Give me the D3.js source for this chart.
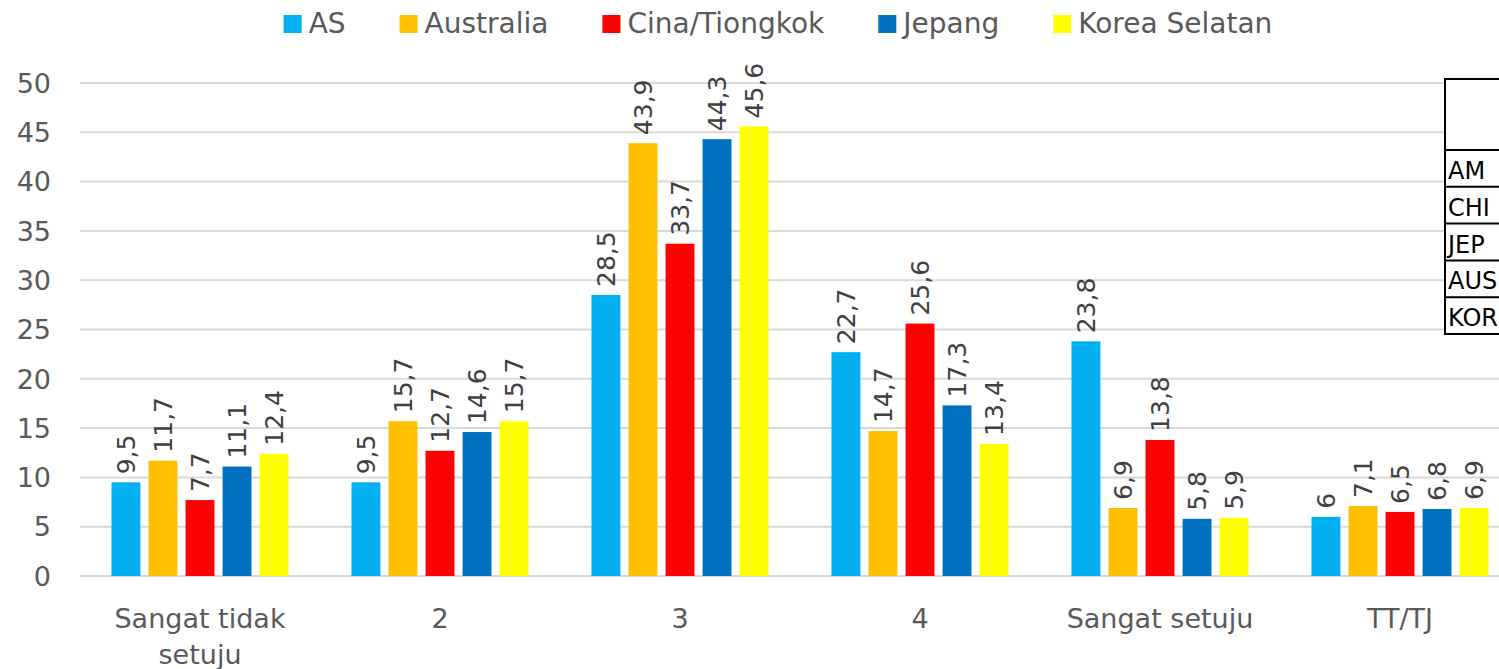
<!DOCTYPE html>
<html>
<head>
<meta charset="utf-8">
<script src="https://cdn.jsdelivr.net/npm/d3@7"></script>
<style>
  body { margin: 0; background: #fff; overflow: hidden; }
  text { font-family: "DejaVu Sans", sans-serif; }
</style>
</head>
<body>
<script>
var categories = ["Sangat tidak setuju", "2", "3", "4", "Sangat setuju", "TT/TJ"];
var seriesNames = ["AS", "Australia", "Cina/Tiongkok", "Jepang", "Korea Selatan"];
var seriesColors = ["#00b0f0", "#ffc000", "#ff0000", "#0070c0", "#ffff00"];
var valuesAS = [9.5, 9.5, 28.5, 22.7, 23.8, 6];
var valuesAustralia = [11.7, 15.7, 43.9, 14.7, 6.9, 7.1];
var valuesCina = [7.7, 12.7, 33.7, 25.6, 13.8, 6.5];
var valuesJepang = [11.1, 14.6, 44.3, 17.3, 5.8, 6.8];
var valuesKorea = [12.4, 15.7, 45.6, 13.4, 5.9, 6.9];
var yTicks = [0, 5, 10, 15, 20, 25, 30, 35, 40, 45, 50];
var tableRows = ["AM", "CHI", "JEP", "AUS", "KOR"];

var allValues = [valuesAS, valuesAustralia, valuesCina, valuesJepang, valuesKorea];

var W = 1499, H = 669;
var margin = { top: 83, left: 80, bottom: 93 };
var plotRight = 1520;

var svg = d3.select("body").append("svg")
  .attr("width", W)
  .attr("height", H);

var x = d3.scaleBand()
  .domain(categories)
  .range([margin.left, plotRight])
  .paddingInner(0)
  .paddingOuter(0);

var groupW = 177;
var inner = d3.scaleBand()
  .domain(seriesNames)
  .range([0, groupW])
  .paddingInner(0.22)
  .paddingOuter(0);

var y = d3.scaleLinear()
  .domain([0, 50])
  .range([H - margin.bottom, margin.top]);

// gridlines
svg.append("g").selectAll("line")
  .data(yTicks)
  .enter().append("line")
  .attr("x1", margin.left)
  .attr("x2", plotRight)
  .attr("y1", function (d) { return y(d); })
  .attr("y2", function (d) { return y(d); })
  .attr("stroke", "#d9d9d9")
  .attr("stroke-width", 2);

// y tick labels
svg.append("g").selectAll("text")
  .data(yTicks)
  .enter().append("text")
  .attr("x", 51)
  .attr("y", function (d) { return y(d); })
  .attr("dy", "0.36em")
  .attr("text-anchor", "end")
  .attr("font-size", 27)
  .attr("fill", "#595959")
  .text(function (d) { return d; });

// bars
var groupOffset = (x.bandwidth() - groupW) / 2;
seriesNames.forEach(function (s, si) {
  var g = svg.append("g");
  g.selectAll("rect")
    .data(allValues[si])
    .enter().append("rect")
    .attr("x", function (d, i) { return x(categories[i]) + groupOffset + inner(s); })
    .attr("y", function (d) { return y(d); })
    .attr("width", inner.bandwidth())
    .attr("height", function (d) { return y(0) - y(d); })
    .attr("fill", seriesColors[si]);

  g.selectAll("text")
    .data(allValues[si])
    .enter().append("text")
    .attr("transform", function (d, i) {
      var cx = x(categories[i]) + groupOffset + inner(s) + inner.bandwidth() / 2;
      return "translate(" + (cx + 9) + "," + (y(d) - 8) + ") rotate(-90)";
    })
    .attr("font-size", 25)
    .attr("fill", "#404040")
    .text(function (d) { return String(d).replace(".", ","); });
});

// x category labels
svg.append("g").selectAll("text")
  .data(categories)
  .enter().append("text")
  .attr("x", function (d) { return x(d) + x.bandwidth() / 2; })
  .attr("y", 628)
  .attr("text-anchor", "middle")
  .attr("font-size", 27)
  .attr("fill", "#595959")
  .each(function (d) {
    var t = d3.select(this);
    var lines = d === "Sangat tidak setuju" ? ["Sangat tidak", "setuju"] : [d];
    lines.forEach(function (ln, li) {
      t.append("tspan")
        .attr("x", x(d) + x.bandwidth() / 2)
        .attr("dy", li === 0 ? 0 : 36)
        .text(ln);
    });
  });

// legend
var legend = svg.append("g");
var lx = 0, gap = 54;
seriesNames.forEach(function (s, si) {
  var item = legend.append("g").attr("transform", "translate(" + lx + ",0)");
  item.append("rect")
    .attr("x", 0).attr("y", 15)
    .attr("width", 18).attr("height", 18)
    .attr("fill", seriesColors[si]);
  var t = item.append("text")
    .attr("x", 25).attr("y", 33)
    .attr("font-size", 28)
    .attr("fill", "#595959")
    .text(s);
  lx += 25 + t.node().getComputedTextLength() + gap;
});
lx -= gap;
legend.attr("transform", "translate(" + (778 - lx / 2) + ",0)");

// cut-off table on the right
var table = svg.append("g").attr("transform", "translate(1445,79)");
var rowH = 36.8;
table.append("rect")
  .attr("x", 0).attr("y", 0)
  .attr("width", 120).attr("height", 71 + rowH * tableRows.length)
  .attr("fill", "#fff")
  .attr("stroke", "#000")
  .attr("stroke-width", 2);
tableRows.forEach(function (r, i) {
  table.append("line")
    .attr("x1", 0).attr("x2", 120)
    .attr("y1", 71 + rowH * i).attr("y2", 71 + rowH * i)
    .attr("stroke", "#000").attr("stroke-width", 2);
  table.append("text")
    .attr("x", 3).attr("y", 71 + rowH * i + 29)
    .attr("font-size", 24)
    .attr("fill", "#000")
    .text(r);
});
</script>
</body>
</html>
